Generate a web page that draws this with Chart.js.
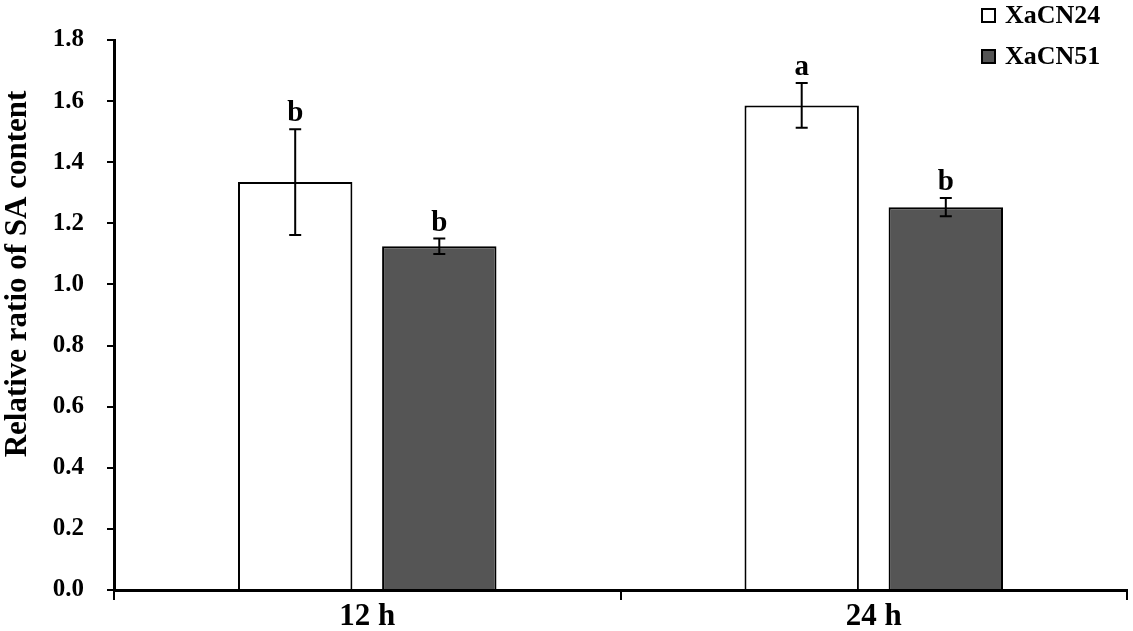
<!DOCTYPE html>
<html>
<head>
<meta charset="utf-8">
<script src="https://cdn.jsdelivr.net/npm/chart.js@4"></script>
<style>
  html,body{margin:0;padding:0;background:#fff;}
  #wrap{width:1133px;height:631px;position:relative;}
</style>
</head>
<body>
<div id="wrap"><canvas id="chart" width="1133" height="631"></canvas></div>
<script>
const categories = ['12 h', '24 h'];
const seriesNames = ['XaCN24', 'XaCN51'];
const xacn24 = [1.335, 1.586];
const xacn24Err = [0.173, 0.073];
const xacn24Letters = ['b', 'a'];
const xacn51 = [1.125, 1.253];
const xacn51Err = [0.025, 0.030];
const xacn51Letters = ['b', 'b'];
const yTicks = [0, 0.2, 0.4, 0.6, 0.8, 1.0, 1.2, 1.4, 1.6, 1.8];
const yTitle = 'Relative ratio of SA content';

const SERIF = '"Liberation Serif", "Times New Roman", serif';

// error bars + significance letters
const errorBars = {
  id: 'errorBars',
  afterDatasetsDraw(chart){
    const ctx = chart.ctx, y = chart.scales.y;
    chart.data.datasets.forEach((ds, i) => {
      const meta = chart.getDatasetMeta(i);
      meta.data.forEach((bar, j) => {
        const v = ds.data[j], e = ds.errors[j];
        const top = y.getPixelForValue(v + e), bot = y.getPixelForValue(v - e);
        ctx.save();
        ctx.strokeStyle = '#000'; ctx.lineWidth = 2;
        ctx.beginPath();
        ctx.moveTo(bar.x, top); ctx.lineTo(bar.x, bot);
        ctx.moveTo(bar.x - 6, top); ctx.lineTo(bar.x + 6, top);
        ctx.moveTo(bar.x - 6, bot); ctx.lineTo(bar.x + 6, bot);
        ctx.stroke();
        ctx.fillStyle = '#000';
        ctx.font = 'bold 29px ' + SERIF;
        ctx.textAlign = 'center'; ctx.textBaseline = 'alphabetic';
        ctx.fillText(ds.letters[j], bar.x, top - 8);
        ctx.restore();
      });
    });
  }
};

// vertical legend top right + y title (sits higher than axis centre in the original)
const extras = {
  id: 'extras',
  afterDraw(chart){
    const ctx = chart.ctx;
    chart.data.datasets.forEach((ds, i) => {
      const yy = 9 + i * 41;
      ctx.save();
      ctx.fillStyle = ds.backgroundColor;
      ctx.fillRect(982, yy, 13, 13);
      ctx.strokeStyle = '#000'; ctx.lineWidth = 2;
      ctx.strokeRect(982, yy, 13, 13);
      ctx.fillStyle = '#000';
      ctx.font = 'bold 26px ' + SERIF;
      ctx.textAlign = 'left'; ctx.textBaseline = 'alphabetic';
      ctx.fillText(ds.label, 1005, yy + 14);
      ctx.restore();
    });
    ctx.save();
    ctx.translate(26, 274);
    ctx.rotate(-Math.PI / 2);
    ctx.fillStyle = '#000';
    ctx.font = 'bold 31px ' + SERIF;
    ctx.textAlign = 'center'; ctx.textBaseline = 'alphabetic';
    ctx.fillText(yTitle, 0, 0);
    ctx.restore();
  }
};

new Chart(document.getElementById('chart'), {
  type: 'bar',
  data: {
    labels: categories,
    datasets: [
      { label: seriesNames[0], data: xacn24, errors: xacn24Err, letters: xacn24Letters,
        backgroundColor: '#ffffff', borderColor: '#000', borderWidth: 2,
        categoryPercentage: 0.569, barPercentage: 0.794 },
      { label: seriesNames[1], data: xacn51, errors: xacn51Err, letters: xacn51Letters,
        backgroundColor: '#555555', borderColor: '#000', borderWidth: 2,
        categoryPercentage: 0.569, barPercentage: 0.794 }
    ]
  },
  options: {
    responsive: false,
    animation: false,
    layout: { padding: { top: 40, right: 6, left: 0, bottom: 0 } },
    plugins: { legend: { display: false }, tooltip: { enabled: false } },
    scales: {
      x: {
        grid: { offset: true, drawOnChartArea: false, drawTicks: true, tickLength: 10, color: '#000', lineWidth: 2 },
        border: { color: '#000', width: 3 },
        ticks: { color: '#000', font: { family: SERIF, size: 31, weight: 'bold' }, padding: -2 },
        afterFit(s){ s.height = 41; }
      },
      y: {
        min: 0, max: 1.8,
        afterBuildTicks(s){ s.ticks = yTicks.map(v => ({ value: v })); },
        grid: { drawOnChartArea: false, drawTicks: true, tickLength: 7, color: '#000', lineWidth: 2 },
        border: { color: '#000', width: 3 },
        ticks: { color: '#000', font: { family: SERIF, size: 25, weight: 'bold' }, padding: 23,
                 callback: v => Number(v).toFixed(1) },
        afterFit(s){ s.width = 114; }
      }
    }
  },
  plugins: [errorBars, extras]
});
</script>
</body>
</html>
